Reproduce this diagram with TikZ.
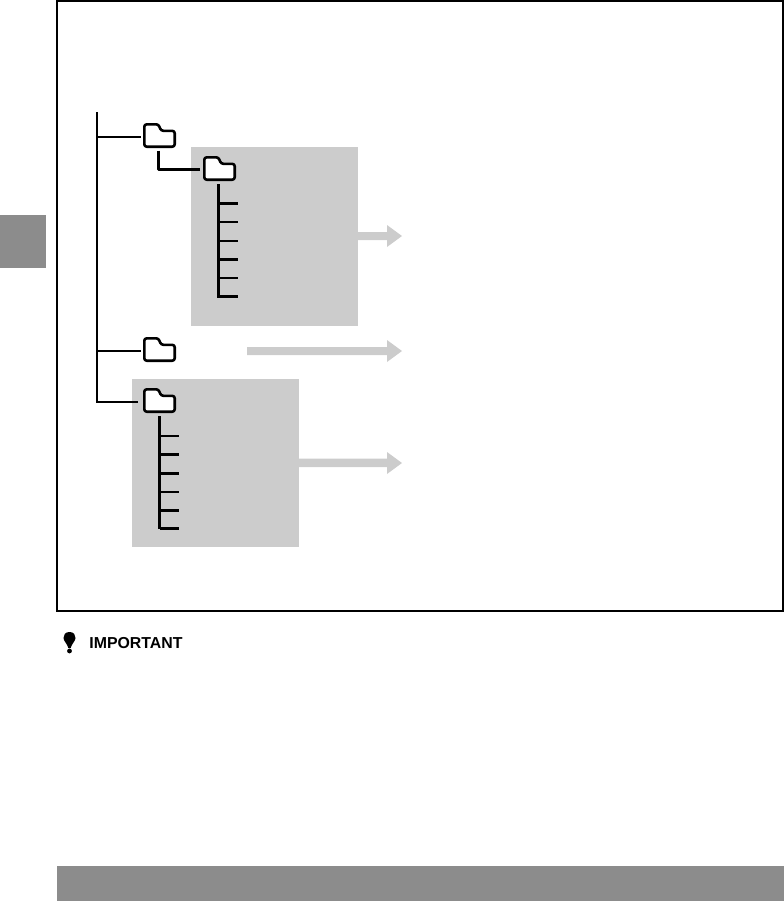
\documentclass[tikz,border=0pt]{standalone}
\usepackage{fontspec}
\setmainfont{Liberation Sans}
\definecolor{panelgray}{gray}{0.8}
\definecolor{bargray}{gray}{0.55}
\tikzset{
  x=0.75pt,y=-0.75pt,
  panel/.style={fill=panelgray,draw=none},
  bararea/.style={fill=bargray,draw=none},
  frameline/.style={draw=black,line width=1.75pt},
  wire/.style={draw=black,line width=2pt,line join=round},
  thinwire/.style={draw=black,line width=1.35pt},
  foldershape/.style={draw=black,line width=1.95pt,fill=white,rounded corners=1.8pt,line join=round},
  flow/.style={fill=panelgray,draw=none},
  folderanchor/.style={inner sep=0pt,minimum width=24.75pt,minimum height=18.75pt,draw=none},
}
\newcommand{\folderat}[3]{%
  % #1 name, #2 left x, #3 top y
  \path[foldershape] (#2+1.3,#3+23.7) -- (#2+1.3,#3+1.3) -- (#2+15.5,#3+1.3) -- (#2+18,#3+7.8) -- (#2+31.7,#3+7.8) -- (#2+31.7,#3+23.7) -- cycle;
  \node[folderanchor] (#1) at (#2+16.5,#3+12.5) {};
}
\begin{document}
\begin{tikzpicture}
\useasboundingbox (0,0) rectangle (784,901);
% side tab and bottom bar
\node[bararea,inner sep=0pt,minimum width=34.5pt,minimum height=39.75pt] (sidetab) at (23,241.5) {};
\node[bararea,inner sep=0pt,minimum width=545.25pt,minimum height=26.25pt] (bottombar) at (420.5,883.5) {};
% frame
\draw[frameline] (57.2,1.1) -- (782.9,1.1) -- (782.9,611) -- (57.2,611) -- cycle;
% grey panels
\node[panel,inner sep=0pt,minimum width=125.25pt,minimum height=134.25pt] (panelA) at (274.5,236.5) {};
\node[panel,inner sep=0pt,minimum width=125.25pt,minimum height=126pt] (panelC) at (215.5,463) {};
% folders
\folderat{rootchild}{143}{123}
\folderat{subA}{203}{156}
\folderat{rootB}{143}{337}
\folderat{rootC}{143}{388}
% trunk
\coordinate (trunktop) at (97,112);
\coordinate (j1) at (97,137);
\coordinate (j2) at (97,351);
\coordinate (j3) at (96,402);
\coordinate (trunkbot) at (97,403);
\coordinate (e1) at (140.7,137);
\coordinate (e2) at (140.7,351);
\coordinate (e3) at (138,402);
\draw[thinwire] (trunktop) -- (trunkbot);
\draw[thinwire] (j1) -- (e1);
\draw[thinwire] (j2) -- (e2);
\draw[wire,line width=1.6pt] (j3) -- (e3);
% elbow between the first folders
\coordinate (elbowtop) at (158.7,150.7);
\coordinate (elbow) at (158.7,169.3);
\coordinate (elbowend) at (200,169.3);
\draw[wire] (elbowtop) -- (elbow) -- (elbowend);
% ladders
\coordinate (ladAtop) at (218.7,184);
\coordinate (ladAbot) at (218.7,297.7);
\draw[wire] (ladAtop) -- (ladAbot);
\foreach \yy/\ww in {203.3/2,222.2/1.35,241/1.35,259.7/2,278/1.35,296.7/2}{
  \coordinate (a) at (218.7,\yy);
  \coordinate (b) at (237.7,\yy);
  \draw[wire,line width=\ww pt] (a) -- (b);
}
\coordinate (ladCtop) at (159.7,416);
\coordinate (ladCbot) at (159.7,529.3);
\draw[wire] (ladCtop) -- (ladCbot);
\foreach \yy/\ww in {436/1.35,454.3/2,473.3/2,492/1.35,510.3/2,528.5/1.6}{
  \coordinate (c) at (159.7,\yy);
  \coordinate (d) at (179,\yy);
  \draw[wire,line width=\ww pt] (c) -- (d);
}
% block arrows
\fill[flow] (358,232) -- (387,232) -- (387,225) -- (402,236) -- (387,247) -- (387,240) -- (358,240) -- cycle;
\fill[flow] (247,347) -- (387,347) -- (387,340) -- (402,351) -- (387,362) -- (387,355) -- (247,355) -- cycle;
\fill[flow] (299,458.5) -- (387,458.5) -- (387,452) -- (402,463) -- (387,474) -- (387,467) -- (299,467) -- cycle;
% important
\fill[black] (69.5,632) .. controls (65,632) and (63.5,635) .. (63.5,638) .. controls (63.5,641) and (67.5,644) .. (68.3,648) -- (70.7,648) .. controls (71.5,644) and (75.5,641) .. (75.5,638) .. controls (75.5,635) and (74,632) .. (69.5,632) -- cycle;
\fill[black] (69.5,651) circle[radius=2.4];
\node[inner sep=0pt,font=\fontsize{11.9pt}{12pt}\selectfont\bfseries] (important) at (136,643.5) {IMPORTANT};
\end{tikzpicture}
\end{document}
